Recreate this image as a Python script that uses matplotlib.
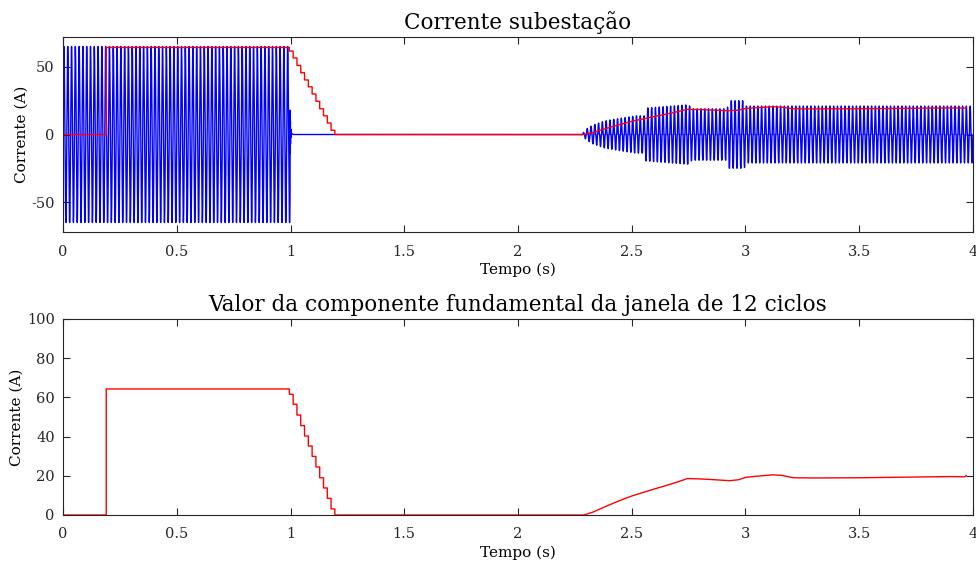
import numpy as np
import matplotlib.pyplot as plt

plt.rcParams['font.family'] = ['DejaVu Serif']
plt.rcParams['axes.unicode_minus'] = False

f_rede = 60.0      # Hz
fs = 12000.0       # taxa de amostragem

# envoltoria (valor de pico) da corrente medida na subestacao
env_t = [0.0, 0.998, 0.998, 2.28, 2.30, 2.33, 2.38, 2.45, 2.52, 2.555, 2.56, 2.75, 2.765,
         2.92, 2.925, 2.995, 3.0, 4.0]
env_a = [65.0, 65.0, 0.0, 0.0, 4.0, 7.0, 10.0, 12.0, 13.8, 13.8, 19.5, 22.0, 19.0,
         19.0, 25.0, 25.0, 21.0, 21.0]

# transitorio na abertura em t = 1 s
trans_t = [0.998, 0.9985, 0.999, 0.9995, 1.0, 1.001, 1.002, 1.004, 1.007, 1.012]
trans_i = [0.0, 18.0, -14.0, 10.0, -7.0, 4.0, -2.0, 1.0, 0.5, 0.0]

# componente fundamental (janela de 12 ciclos)
fund_inicio = 0.19
fund_nominal = 64.3
queda_t0 = 0.995
queda_vals = [61.6, 56.5, 51.0, 45.6, 40.3, 35.2, 29.9, 24.5, 19.0, 13.8, 8.5, 3.1, 0.0]
ret_t = [2.29, 2.33, 2.40, 2.45, 2.50, 2.55, 2.60, 2.65, 2.70, 2.745, 2.80, 2.85,
         2.93, 2.97, 3.00, 3.05, 3.12, 3.16, 3.21, 3.30, 3.50, 3.70, 3.90, 3.965, 3.97]
ret_v = [0.0, 1.5, 5.1, 7.5, 9.7, 11.5, 13.3, 15.0, 16.8, 18.6, 18.4, 18.1,
         17.5, 18.0, 19.2, 19.8, 20.5, 20.2, 19.0, 18.9, 19.0, 19.3, 19.6, 19.5, 20.2]

# sinal de corrente
t = np.arange(0, 4.0, 1 / fs)
s = np.sin(2 * np.pi * f_rede * t)
forma = np.where(t < 1.0, s, np.sign(s) * np.clip((np.abs(s) - 0.25) / 0.75, 0, None))
i_sub = np.interp(t, env_t, env_a) * forma
mask = (t >= trans_t[0]) & (t <= trans_t[-1])
i_sub[mask] += np.interp(t[mask], trans_t, trans_i)

# curva da fundamental
q_t = queda_t0 + np.arange(len(queda_vals)) * (0.2 / 12)
red_t = [0.0, fund_inicio, fund_inicio]
red_v = [0.0, 0.0, fund_nominal]
prev = fund_nominal
for tk, vk in zip(q_t, queda_vals):
    red_t += [tk, tk]
    red_v += [prev, vk]
    prev = vk
red_t += ret_t
red_v += ret_v

cor_eixo = '#262626'


def estilo(ax):
    ax.tick_params(direction='in', top=True, right=True, length=5, width=0.8,
                   colors=cor_eixo, labelsize=10.5)
    ax.tick_params(axis='x', pad=9)
    ax.tick_params(axis='y', pad=6)
    for sp in ax.spines.values():
        sp.set_color(cor_eixo)
        sp.set_linewidth(0.8)
    ax.set_xlim(0, 4)
    ax.set_xticks(np.arange(0, 4.01, 0.5))
    ax.set_xticklabels(['0', '0.5', '1', '1.5', '2', '2.5', '3', '3.5', '4'])
    ax.set_xlabel('Tempo (s)', fontsize=11, labelpad=3)
    ax.set_ylabel('Corrente (A)', fontsize=11, labelpad=2)


fig = plt.figure(figsize=(9.76, 5.63), dpi=100)

ax1 = fig.add_axes([63 / 976, 1 - 232 / 563, 910 / 976, 195 / 563])
ax1.plot(t, i_sub, color='#0000ff', lw=1.0)
ax1.plot(red_t, red_v, color='#ff0000', lw=1.0)
ax1.set_ylim(-72, 72)
ax1.set_yticks([-50, 0, 50])
estilo(ax1)
ax1.set_title('Corrente subestação', fontsize=15.5, pad=6)

ax2 = fig.add_axes([63 / 976, 1 - 515 / 563, 910 / 976, 196 / 563])
ax2.plot(red_t, red_v, color='#ff0000', lw=1.0)
ax2.set_ylim(0, 100)
ax2.set_yticks(np.arange(0, 101, 20))
estilo(ax2)
ax2.set_title('Valor da componente fundamental da janela de 12 ciclos', fontsize=15.5, pad=6)

fig.savefig('out.png', dpi=100)
